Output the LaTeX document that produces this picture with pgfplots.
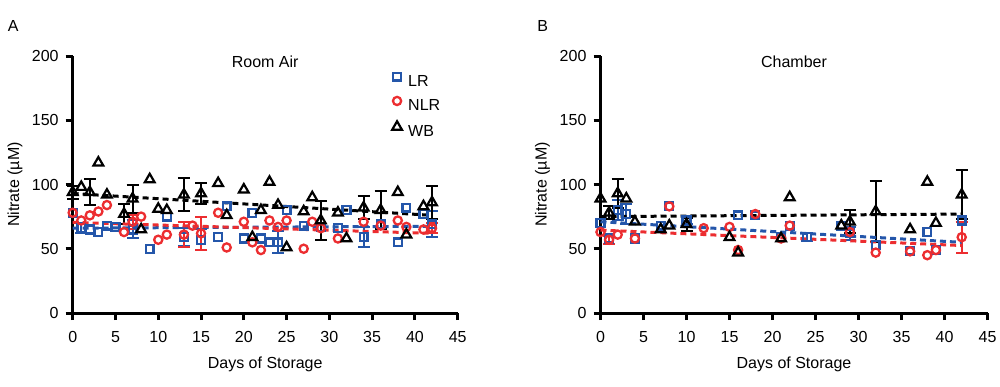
\documentclass[border=0pt]{standalone}
\usepackage{fontspec}
\setmainfont{Liberation Sans}
\usepackage{pgfplots}
\pgfplotsset{compat=1.18}
\definecolor{lrblue}{RGB}{36,86,170}
\definecolor{nlrred}{RGB}{236,45,48}
\newcommand{\f}{\fontsize{8}{9.6}\selectfont}
\pgfplotsset{
  panel/.style={
    scale only axis, height=128.5pt,
    xmin=0,xmax=45,ymin=0,ymax=200, clip=false,
    axis x line=bottom, axis y line=left,
    axis line style={-, line width=1.5pt},
    xtick={0,5,...,45}, ytick={0,50,...,200},
    tick style={black, line width=1.5pt},
    xtick align=outside, ytick align=outside, major tick length=3.5pt,
    tick label style={font=\f},
    xticklabel style={yshift=-2pt},
    /pgf/number format/assume math mode=true,
    xlabel={Days of Storage}, ylabel={Nitrate (µM)},
    label style={font=\f},
    xlabel style={at={(axis description cs:0.5,-0.2)},anchor=center},
    ylabel style={at={(axis description cs:-0.1499,0.5)},anchor=center},
  },
  lrm/.style={only marks, mark=square, mark size=1.95pt, color=lrblue, mark options={line width=1.15pt, solid}},
  nlrm/.style={only marks, mark=o, mark size=2.05pt, color=nlrred, mark options={line width=1.15pt, solid}},
  wbm/.style={only marks, mark=triangle, mark size=2.8pt, color=black, mark options={line width=1.1pt, solid}},
  err/.style={error bars/y dir=both, error bars/y explicit, error bars/error bar style={line width=1pt}, error bars/error mark options={rotate=90, line width=1pt, mark size=3pt}},
  trend/.style={line width=1.5pt, dash pattern=on 3pt off 2pt, forget plot},
}
\begin{document}
\begin{tikzpicture}
\useasboundingbox (0,0) rectangle (500pt,193pt);
\node[font=\f] at (6.65pt,180pt) {A};
\node[font=\f] at (271.35pt,180pt) {B};
% Panel A
\begin{axis}[panel, width=192.5pt, at={(36.35pt,36.5pt)}, anchor=south west,
  legend style={at={(axis cs:37.3,161)}, anchor=west, draw=none, fill=none, inner sep=0pt, row sep=3.8pt, column sep=3.15pt, font=\f, nodes={inner sep=0pt}},
  legend cell align=left,
  legend image code/.code={\draw[mark repeat=2,mark phase=2,#1] plot coordinates {(-3pt,2.85pt) (0pt,2.85pt) (3pt,2.85pt)};}]
\node[font=\f] at (axis description cs:0.5,0.9767) {Room Air};
\addplot[lrm] coordinates {(0,78) (2,65) (3,63) (4,68) (5,67) (9,50) (11,75) (17,59) (18,83) (20,58) (21,78) (22,58) (23,55) (25,80) (27,68) (29,67) (31,66) (32,80) (36,69) (38,55) (39,82) (41,77)};
\addlegendentry{LR}
\addplot[lrm, err, forget plot] coordinates {(1,66) +- (0,4) (7,65) +- (0,7) (13,59) +- (0,7) (15,57) +- (0,8) (24,55) +- (0,8.5) (34,59) +- (0,8) (42,69) +- (0,10)};
\addplot[nlrm] coordinates {(0,78) (1,72) (2,76) (3,79) (4,84) (6,63) (8,75) (10,57) (11,61) (14,68) (17,78) (18,51) (20,71) (21,55) (22,49) (23,72) (24,67) (25,72) (27,50) (28,71) (29,66) (31,58) (34,71) (36,68) (38,72) (39,67) (41,65)};
\addlegendentry{NLR}
\addplot[nlrm, err, forget plot] coordinates {(7,71) +- (0,5.5) (13,61) +- (0,10) (15,62) +- (0,13) (42,66) +- (0,4)};
\addplot[wbm] coordinates {(1,98) (3,117) (4,92) (8,65) (9,104) (10,81) (11,80) (17,101) (18,76) (20,96) (21,59) (22,80) (23,102) (24,84) (25,51) (27,79) (28,90) (31,78) (32,58) (38,94) (39,61) (41,83)};
\addlegendentry{WB}
\addplot[wbm, err, forget plot] coordinates {(0,94) +- (0,5) (2,94) +- (0,10) (6,77) +- (0,8) (7,89) +- (0,11) (13,92) +- (0,13) (15,93) +- (0,8) (29,72) +- (0,15) (34,82) +- (0,9) (36,80) +- (0,15) (42,86) +- (0,13)};
\addplot[trend, lrblue] coordinates {(0,66) (42,67.5)};
\addplot[trend, nlrred] coordinates {(0,70.5) (42,62)};
\addplot[trend, black] coordinates {(0,93) (42,76)};
\end{axis}
% Panel B
\begin{axis}[panel, width=193.5pt, at={(300.25pt,36.5pt)}, anchor=south west]
\node[font=\f] at (axis description cs:0.5,0.9767) {Chamber};
\addplot[lrm] coordinates {(0,70) (1,58) (4,58) (7,68) (8,83) (16,76) (18,76) (21,59) (22,68) (28,68) (32,53) (36,48.5) (38,63) (39,49) (42,72)};
\addplot[lrm, err] coordinates {(2,80) +- (0,8) (3,77) +- (0,8) (10,72) +- (0,3) (24,59) +- (0,3) (29,62) +- (0,5)};
\addplot[nlrm] coordinates {(0,63) (2,61) (4,58) (8,83) (12,66) (15,67) (16,49) (18,77) (21,58) (22,68) (29,63) (32,47) (36,48) (38,45) (39,49)};
\addplot[nlrm, err] coordinates {(1,57) +- (0,3) (42,59) +- (0,12)};
\addplot[wbm] coordinates {(0,89) (3,89) (4,71) (7,65) (8,68) (15,59) (16,47) (21,58) (22,90) (28,68) (36,65) (38,102) (39,70)};
\addplot[wbm, err] coordinates {(1,78) +- (0,5) (2,93) +- (0,11) (10,69) +- (0,5) (29,71) +- (0,9) (32,79) +- (0,24) (42,92) +- (0,19)};
\addplot[trend, lrblue] coordinates {(0,71) (42,55)};
\addplot[trend, nlrred] coordinates {(0,64.5) (42,52.5)};
\addplot[trend, black] coordinates {(0,75) (42,77)};
\end{axis}
\end{tikzpicture}
\end{document}
